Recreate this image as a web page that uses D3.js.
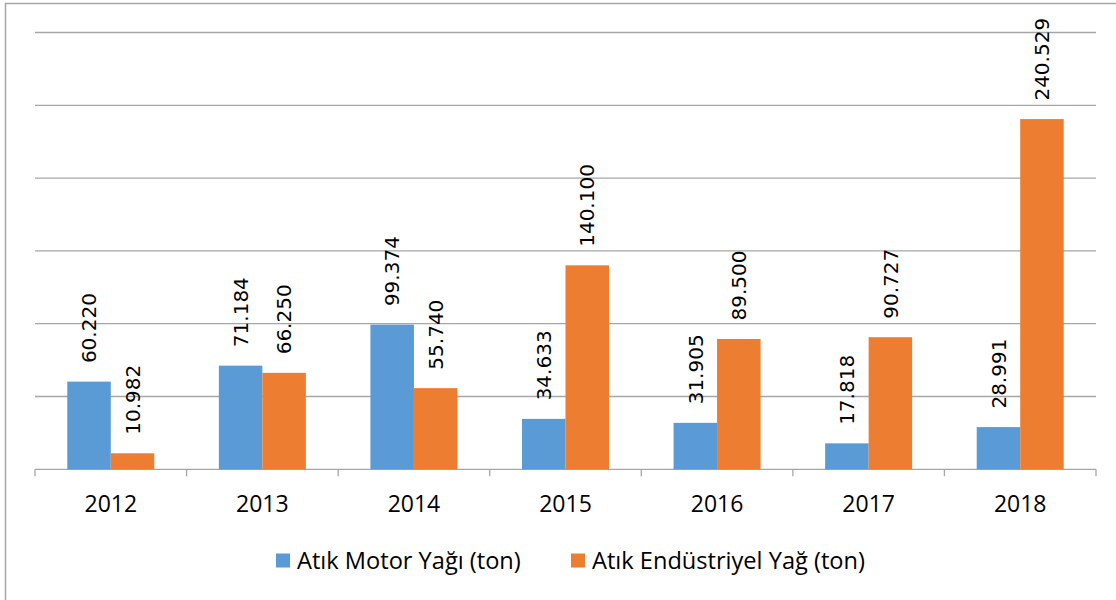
<!DOCTYPE html>
<html>
<head>
<meta charset="utf-8">
<script src="https://cdn.jsdelivr.net/npm/d3@7"></script>
<style>
  body { margin: 0; background: #fff; }
</style>
</head>
<body>
<script>
const years = ["2012", "2013", "2014", "2015", "2016", "2017", "2018"];
const seriesNames = ["Atık Motor Yağı (ton)", "Atık Endüstriyel Yağ (ton)"];
const motorValues = [60.220, 71.184, 99.374, 34.633, 31.905, 17.818, 28.991];
const industrialValues = [10.982, 66.250, 55.740, 140.100, 89.500, 90.727, 240.529];
const motorLabels = ["60.220", "71.184", "99.374", "34.633", "31.905", "17.818", "28.991"];
const industrialLabels = ["10.982", "66.250", "55.740", "140.100", "89.500", "90.727", "240.529"];
const gridTicks = [0, 50, 100, 150, 200, 250, 300];
const colors = ["#5B9BD5", "#ED7D31"];

const width = 1116;
const height = 600;
const plot = {left: 35, right: 1096, top: 32.5, bottom: 469.3};

var svg = d3.select("body").append("svg")
    .attr("width", width)
    .attr("height", height);

// chart border
svg.append("rect")
    .attr("x", 5.5)
    .attr("y", 3.5)
    .attr("width", 1130)
    .attr("height", 620)
    .attr("fill", "none")
    .attr("stroke", "#a6a6a6")
    .attr("stroke-width", 1.5);

const x0 = d3.scaleBand()
    .domain(years)
    .range([plot.left, plot.right])
    .padding(0);

const x1 = d3.scaleBand()
    .domain([0, 1])
    .range([0, x0.bandwidth()])
    .paddingInner(0)
    .paddingOuter(0.742);

const y = d3.scaleLinear()
    .domain([0, 300])
    .range([plot.bottom, plot.top]);

// gridlines
svg.append("g")
    .selectAll("line")
    .data(gridTicks.slice(1))
    .enter()
    .append("line")
        .attr("x1", plot.left)
        .attr("x2", plot.right)
        .attr("y1", d => y(d))
        .attr("y2", d => y(d))
        .attr("stroke", "#a6a6a6")
        .attr("stroke-width", 1.3);

// x axis
const xAxis = svg.append("g")
    .attr("transform", "translate(0," + plot.bottom + ")")
    .call(d3.axisBottom(x0).tickSize(0).tickPadding(26));
xAxis.select(".domain")
    .attr("stroke", "#a6a6a6")
    .attr("stroke-width", 1.3)
    .attr("d", "M" + plot.left + ",0H" + plot.right);
xAxis.selectAll("text")
    .attr("font-family", "'Open Sans', sans-serif")
    .attr("font-size", 23)
    .attr("fill", "#000");

// category boundary ticks
xAxis.append("g")
    .selectAll("line")
    .data(years.concat(["end"]))
    .enter()
    .append("line")
        .attr("x1", (d, i) => plot.left + i * x0.step())
        .attr("x2", (d, i) => plot.left + i * x0.step())
        .attr("y1", 0)
        .attr("y2", 7)
        .attr("stroke", "#a6a6a6")
        .attr("stroke-width", 1.3);

const seriesData = [
    {values: motorValues, labels: motorLabels},
    {values: industrialValues, labels: industrialLabels}
];

seriesData.forEach((s, si) => {
    const rows = years.map((yr, i) => ({year: yr, value: s.values[i], label: s.labels[i]}));

    svg.append("g")
        .selectAll("rect")
        .data(rows)
        .enter()
        .append("rect")
            .attr("x", d => x0(d.year) + x1(si))
            .attr("y", d => y(d.value))
            .attr("width", x1.bandwidth())
            .attr("height", d => y(0) - y(d.value))
            .attr("fill", colors[si]);

    svg.append("g")
        .selectAll("text")
        .data(rows)
        .enter()
        .append("text")
            .attr("transform", d => "translate(" + (x0(d.year) + x1(si) + x1.bandwidth() / 2) + "," + (y(d.value) - 18.5) + ") rotate(-90)")
            .attr("dy", "0.36em")
            .attr("text-anchor", "start")
            .attr("font-family", "'DejaVu Sans', sans-serif")
            .attr("font-size", 20)
            .attr("fill", "#000")
            .text(d => d.label);
});

// legend
const legendItems = [
    {name: seriesNames[0], color: colors[0], x: 276},
    {name: seriesNames[1], color: colors[1], x: 571}
];
const legend = svg.append("g");
legendItems.forEach(item => {
    legend.append("rect")
        .attr("x", item.x)
        .attr("y", 553.5)
        .attr("width", 14)
        .attr("height", 14)
        .attr("fill", item.color);
    legend.append("text")
        .attr("x", item.x + 21)
        .attr("y", 569)
        .attr("font-family", "'Open Sans', sans-serif")
        .attr("font-size", 23.6)
        .attr("fill", "#000")
        .text(item.name);
});
</script>
</body>
</html>
